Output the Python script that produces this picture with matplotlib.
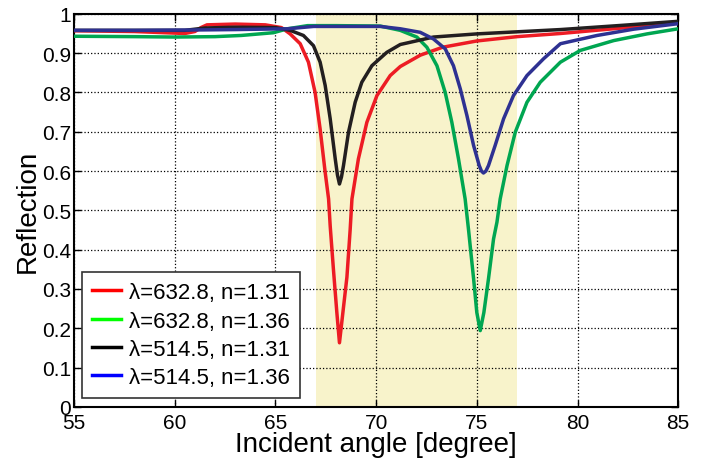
import numpy as np
import matplotlib
matplotlib.use('Agg')
from matplotlib import pyplot as plt
from matplotlib.lines import Line2D

plt.rcParams['font.family'] = ['Liberation Sans', 'DejaVu Sans']

# lambda=632.8, n=1.31
red_x = [55, 58, 59.5, 60.5, 61.0, 61.3, 61.6, 63.0, 64.5, 65.3, 65.73, 66.23, 66.64,
         66.97, 67.22, 67.47, 67.64, 67.72, 67.88, 68.05, 68.18, 68.35, 68.55, 68.71,
         68.8, 69.12, 69.54, 70.04, 70.7, 71.2, 72.2, 73.3, 75.0, 77.0, 79.15, 82.0, 85]
red_y = [0.957, 0.955, 0.952, 0.950, 0.955, 0.965, 0.972, 0.974, 0.972, 0.965, 0.949,
         0.924, 0.877, 0.80, 0.707, 0.597, 0.529, 0.46, 0.35, 0.24, 0.163, 0.24, 0.33,
         0.45, 0.529, 0.631, 0.724, 0.792, 0.843, 0.866, 0.895, 0.915, 0.931, 0.942,
         0.950, 0.963, 0.978]

# lambda=632.8, n=1.36
green_x = [55, 58, 60, 62, 63.3, 64.9, 65.6, 66.6, 68, 70.2, 71.2, 72.02, 72.52, 73.02,
           73.43, 73.76, 74.09, 74.42, 74.59, 74.84, 75.0, 75.17, 75.35, 75.58, 75.83,
           76.0, 76.16, 76.5, 76.91, 77.49, 78.15, 79.15, 80.14, 81.8, 83.45, 85]
green_y = [0.943, 0.942, 0.941, 0.942, 0.945, 0.952, 0.962, 0.970, 0.970, 0.969, 0.958,
           0.941, 0.915, 0.868, 0.80, 0.724, 0.631, 0.529, 0.45, 0.326, 0.24, 0.194,
           0.24, 0.326, 0.427, 0.47, 0.529, 0.614, 0.699, 0.775, 0.826, 0.877, 0.907,
           0.932, 0.949, 0.962]

# lambda=514.5, n=1.31
black_x = [55, 58, 60.5, 61.5, 63.0, 65.0, 65.73, 66.39, 66.89, 67.22, 67.47, 67.72,
           67.97, 68.08, 68.18, 68.28, 68.38, 68.63, 68.96, 69.29, 69.79, 70.53, 71.2,
           72.85, 75.0, 79.15, 82.0, 85]
black_y = [0.958, 0.958, 0.958, 0.964, 0.966, 0.965, 0.958, 0.945, 0.919, 0.877, 0.818,
           0.733, 0.631, 0.59, 0.567, 0.585, 0.614, 0.699, 0.775, 0.826, 0.868, 0.902,
           0.922, 0.941, 0.949, 0.960, 0.970, 0.981]

# lambda=514.5, n=1.36
blue_x = [55, 58, 61, 63, 65.6, 66.9, 70.2, 71.2, 72.19, 72.85, 73.43, 73.84, 74.18,
          74.51, 74.84, 75.12, 75.23, 75.33, 75.45, 75.58, 75.91, 76.33, 76.82, 77.49,
          78.32, 79.15, 80.97, 82.79, 85]
blue_y = [0.958, 0.958, 0.959, 0.960, 0.962, 0.968, 0.968, 0.962, 0.953, 0.936, 0.911,
          0.868, 0.809, 0.741, 0.665, 0.614, 0.600, 0.595, 0.600, 0.614, 0.665, 0.733,
          0.792, 0.843, 0.886, 0.924, 0.945, 0.961, 0.975]

labels = [u'\u03bb=632.8, n=1.31', u'\u03bb=632.8, n=1.36',
          u'\u03bb=514.5, n=1.31', u'\u03bb=514.5, n=1.36']
shade = (67, 77)


def main():
    fig = plt.figure(figsize=(7.05, 4.64), dpi=100)
    ax = fig.add_axes([0.105, 0.121, 0.857, 0.847])

    ax.axvspan(shade[0], shade[1], color='#f8f3cb', zorder=0, lw=0)

    ax.plot(red_x, red_y, color='#ed1c24', lw=2.5, zorder=3)
    ax.plot(green_x, green_y, color='#00a651', lw=2.5, zorder=3)
    ax.plot(black_x, black_y, color='#231f20', lw=2.5, zorder=3)
    ax.plot(blue_x, blue_y, color='#2e3192', lw=2.5, zorder=3)

    ax.set_xlim(55, 85)
    ax.set_ylim(0, 1)
    ax.set_xticks(np.arange(55, 86, 5))
    ax.set_yticks(np.arange(0, 1.01, 0.1))
    ax.set_yticklabels(['0', '0.1', '0.2', '0.3', '0.4', '0.5', '0.6', '0.7', '0.8', '0.9', '1'])
    ax.tick_params(direction='in', top=True, right=True, labelsize=15, length=5, width=1)
    ax.tick_params(axis='y', pad=2)
    ax.tick_params(axis='x', pad=4.5)
    ax.grid(True, linestyle=':', color='black', lw=0.9)
    ax.set_axisbelow(True)
    for s in ax.spines.values():
        s.set_linewidth(1.5)

    ax.set_xlabel('Incident angle [degree]', fontsize=20, labelpad=-1)
    ax.set_ylabel('Reflection', fontsize=20, labelpad=1)

    # legend colours differ from the plotted ones in the original
    handles = [Line2D([], [], color=c, lw=2.5) for c in ['#ff0000', '#00ff00', '#000000', '#0000ff']]
    leg = ax.legend(handles, labels, loc='lower left', bbox_to_anchor=(0.014, 0.022),
                    borderaxespad=0, fancybox=False, framealpha=1, edgecolor='#333333',
                    fontsize=16, handlelength=1.3, labelspacing=0.33, handletextpad=0.35,
                    borderpad=0.45)
    leg.get_frame().set_linewidth(1.2)
    leg.set_zorder(5)

    fig.savefig('out.png', dpi=100)


if __name__ == '__main__':
    main()
